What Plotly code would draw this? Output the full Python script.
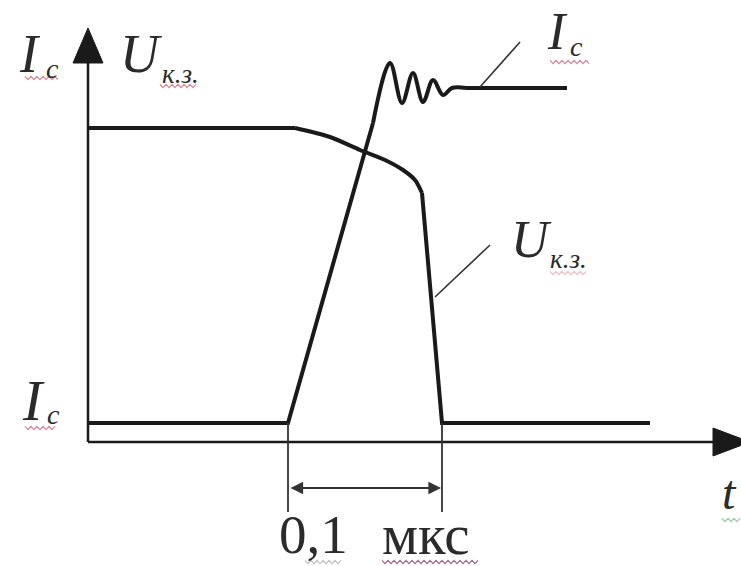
import numpy as np
import plotly.graph_objects as go

# Time axis origin sits at the crossing of the two axes; units are screen pixels.
W, H = 741, 566
X0, Y0 = 88, 442          # axis crossing in page pixels

# Drain current I_c: low level, linear rise, ringing, settled level
ic_rise_t = [0, 200, 285]
ic_rise_v = [19, 19, 319]
ic_ring_t = [285, 302, 314, 325, 335, 345, 355, 364, 378]
ic_ring_v = [319, 379, 339, 369, 340, 362, 347, 354, 354]
ic_flat_t = [378, 479]
ic_flat_v = [354, 354]

# Voltage U_к.з.: plateau, bending down, steep fall, low level
u_flat_t = [0, 207]
u_flat_v = [314, 314]
u_bend_t = [207, 242, 272, 297, 315, 327, 334]
u_bend_v = [314, 305, 292, 282, 272, 262, 249]
u_fall_t = [334, 354, 562]
u_fall_v = [249, 19, 19]

# Switching interval markers
interval_start, interval_end = 200, 354
interval_label = "0,1"
interval_unit = "мкс"

INK = "#1a1a1a"
TEXT = "#2b2b2b"
SERIF = "Liberation Serif, Times New Roman, serif"

fig = go.Figure()


def line(t, v, width=4.0, shape="linear", color=INK, smoothing=1.0):
    fig.add_trace(go.Scatter(
        x=t, y=v, mode="lines",
        line=dict(color=color, width=width, shape=shape, smoothing=smoothing),
        hoverinfo="skip", showlegend=False))


# axes
line([0, 0], [0, 382], width=2.5)
line([0, 628], [0, 0], width=2.5)

# current curve
line(ic_rise_t, ic_rise_v)
line(ic_ring_t, ic_ring_v, shape="spline", smoothing=1.0)
line(ic_flat_t, ic_flat_v)

# voltage curve
line(u_flat_t, u_flat_v)
line(u_bend_t, u_bend_v, shape="spline", smoothing=0.8)
line(u_fall_t, u_fall_v)

# leader lines to the curve labels
line([392, 432], [355, 400], width=1.6, color="#333333")
line([347, 402], [145, 197], width=1.6, color="#333333")

# dimension extension lines
line([interval_start, interval_start], [19, -70], width=1.8, color="#333333")
line([interval_end, interval_end], [19, -70], width=1.8, color="#333333")

# arrowheads of the axes
fig.add_shape(type="path", path="M 0 414 L -15 379 L 15 379 Z",
              fillcolor=INK, line=dict(color=INK, width=1), xref="x", yref="y")
fig.add_shape(type="path", path="M 662 0 L 625 14 L 625 -14 Z",
              fillcolor=INK, line=dict(color=INK, width=1), xref="x", yref="y")

# double-headed dimension arrow
fig.add_annotation(x=interval_end - 1, y=-46, ax=interval_start + 1, ay=-46,
                   xref="x", yref="y", axref="x", ayref="y", text="",
                   showarrow=True, arrowhead=2, arrowside="end+start",
                   arrowsize=1.4, arrowwidth=1.8, arrowcolor="#333333")


def label(x, y, text, size, italic=True, anchor="center"):
    fig.add_annotation(x=x, y=y, xref="x", yref="y", text=text,
                       showarrow=False, xanchor=anchor, yanchor="middle",
                       font=dict(family=SERIF, size=size, color=TEXT,
                                 style="italic" if italic else "normal"))


# axis titles
label(-58, 388, "I", 54)
label(-36, 374, "c", 28)
label(53, 388, "U", 54)
label(92, 368, "к.з.", 27)
# curve labels
label(469, 411, "I", 52)
label(488, 396, "c", 28)
label(443, 203, "U", 52)
label(480, 183, "к.з.", 27)
# low level label on the vertical axis
label(-55, 42, "I", 58)
label(-35, 28, "c", 28)
# time axis label
label(641, -50, "t", 48)
# interval value
label(189, -92, interval_label, 55, italic=False, anchor="left")
label(292, -92, interval_unit, 57, italic=False, anchor="left")


def squiggle(x1, x2, y, color, step=3.0, amp=1.6, width=1.3):
    xs = np.arange(x1, x2 + 0.1, step)
    ys = y + amp * np.where(np.arange(len(xs)) % 2 == 0, 1, -1)
    line(list(xs), list(ys), width=width, color=color)


red = "rgba(200,70,90,0.65)"
squiggle(-63, -30, 442 - 78, red)
squiggle(72, 110, 442 - 86, red)
squiggle(462, 502, 442 - 62, red)
squiggle(462, 500, 442 - 273, "rgba(200,70,90,0.35)")
squiggle(-63, -31, 442 - 428, red)
squiggle(294, 392, 442 - 562, "rgba(120,40,90,0.7)")
squiggle(217, 255, 442 - 562, "rgba(120,120,120,0.45)")
squiggle(634, 653, 442 - 520, "rgba(60,170,90,0.55)")

fig.update_layout(
    width=W, height=H,
    margin=dict(l=0, r=0, t=0, b=0),
    paper_bgcolor="white", plot_bgcolor="white",
    xaxis=dict(range=[-X0, W - X0], visible=False, fixedrange=True),
    yaxis=dict(range=[Y0 - H, Y0], visible=False, fixedrange=True),
    showlegend=False,
)

fig.write_html("out.html")
